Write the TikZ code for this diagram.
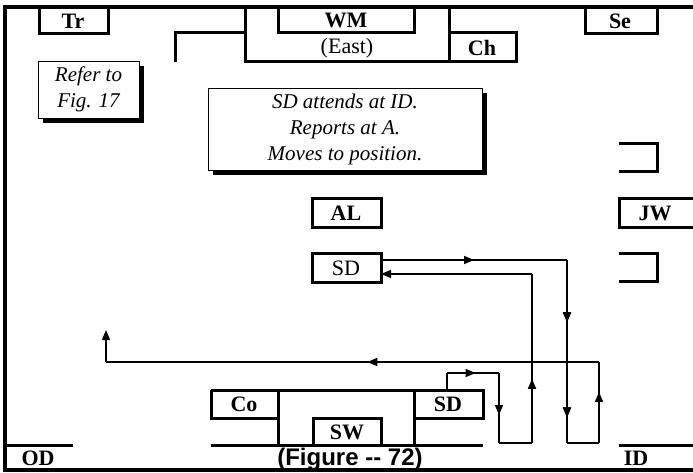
\documentclass[tikz,border=0pt]{standalone}
\usepackage{fontspec}
\setmainfont{Liberation Serif}
\newfontfamily\capfont{Liberation Sans}
\usepackage{tikz}
\usetikzlibrary{arrows.meta,decorations.markings,shadows}

\begin{document}
\begin{tikzpicture}[
				x=1pt, y=-1pt,
				frame/.style = {line width=3.2pt},
				wall/.style = {line width=3pt},
				flow/.style = {line width=1.6pt},
				lbl/.style = {inner sep=0pt, font=\bfseries\fontsize{22}{24}\selectfont},
				plain/.style = {inner sep=0pt, font=\fontsize{22}{24}\selectfont},
				card/.style = {draw, fill=white, line width=0.9pt, inner sep=0pt, align=center,
					font=\itshape\fontsize{21}{26}\selectfont,
					drop shadow={shadow xshift=5pt, shadow yshift=-5pt, fill=black, opacity=1}},
				mid/.style = {postaction={decorate}, decoration={markings,
					mark=at position #1 with {\arrow{Triangle[length=10pt, width=8pt]}}}},
				tip/.style = {-{Triangle[length=10pt, width=8pt]}}
				]
				\useasboundingbox (0,0) rectangle (693,473);
				
				% outer frame and walls
				\draw[frame] (693,7) -- (5,7) -- (5,470) -- (693,470);
				\draw[wall] (39,7) -- (39,34) -- (108,34) -- (108,7);
				\draw[wall] (278,7) -- (278,33) -- (414,33) -- (414,7);
				\draw[wall] (175,62) -- (175,33) -- (245,33);
				\draw[wall] (245,7) -- (245,62) -- (516,62) -- (516,33) -- (449,33);
				\draw[wall] (449,7) -- (449,62);
				\draw[wall] (585,7) -- (585,34) -- (657,34) -- (657,7);
				\draw[wall] (619,144) -- (657,144) -- (657,172) -- (619,172);
				\draw[wall] (693,199) -- (619,199) -- (619,227) -- (693,227);
				\draw[wall] (619,253) -- (657,253) -- (657,281) -- (619,281);
				\draw[wall] (312,199) rectangle (381,227);
				\draw[wall] (312,253) rectangle (381,282);
				\draw[wall] (211,445) -- (483,445);
				\draw[wall] (211,390) -- (483,390) -- (483,418) -- (414,418);
				\draw[wall] (211,390) -- (211,418) -- (278,418);
				\draw[wall] (278,390) -- (278,445);
				\draw[wall] (313,445) -- (313,418) -- (381,418) -- (381,445);
				\draw[wall] (414,390) -- (414,445);
				\draw[wall] (5,445) -- (73,445);
				\draw[wall] (619,445) -- (693,445);
				
				% labels
				\node[lbl] (tr) at (73,21) {Tr};
				\node[lbl] (wm) at (346,20) {WM};
				\node[plain] (east) at (347,48) {(East)};
				\node[lbl] (ch) at (482,48) {Ch};
				\node[lbl] (se) at (620,21) {Se};
				\node[lbl] (al) at (346,213) {AL};
				\node[lbl] (jw) at (655,213) {JW};
				\node[plain] (sdup) at (346,268) {SD};
				\node[lbl] (co) at (244,404) {Co};
				\node[lbl] (sw) at (347,432) {SW};
				\node[lbl] (sdlow) at (448,404) {SD};
				\node[lbl] (od) at (38,458) {OD};
				\node[lbl] (id) at (636,458) {ID};
				\node[inner sep=0pt, font=\capfont\bfseries\fontsize{24}{26}\selectfont] (cap) at (350,459) {(Figure -- 72)};
				
				% notes
				\node[card, minimum width=101pt, minimum height=57pt] (refer) at (88.5,89.5) {Refer to\\Fig. 17};
				\node[card, minimum width=274pt, minimum height=82pt] (task) at (345,129) {SD attends at ID.\\Reports at A.\\Moves to position.};
				
				% route out
				\coordinate (o1) at (381,260);
				\coordinate (o2) at (567,260);
				\coordinate (o3) at (567,443);
				\coordinate (o4) at (599,443);
				\coordinate (o5) at (599,362);
				\coordinate (o6) at (106,362);
				\coordinate (o7) at (106,330);
				\draw[flow, mid=0.5] (o1) -- (o2);
				\draw[flow, mid=0.34, mid=0.86] (o2) -- (o3);
				\draw[flow] (o3) -- (o4);
				\draw[flow, mid=0.63] (o4) -- (o5);
				\draw[flow, mid=0.47] (o5) -- (o6);
				\draw[flow, tip] (o6) -- (o7);
				
				% route back
				\coordinate (r1) at (447,390);
				\coordinate (r2) at (447,373);
				\coordinate (r3) at (499,373);
				\coordinate (r4) at (499,443);
				\coordinate (r5) at (532,443);
				\coordinate (r6) at (532,274);
				\coordinate (r7) at (381,274);
				\draw[flow] (r1) -- (r2);
				\draw[flow, mid=0.55] (r2) -- (r3);
				\draw[flow, mid=0.6] (r3) -- (r4);
				\draw[flow] (r4) -- (r5);
				\draw[flow, mid=0.38] (r5) -- (r6);
				\draw[flow, tip] (r6) -- (r7);
			\end{tikzpicture}
\end{document}
